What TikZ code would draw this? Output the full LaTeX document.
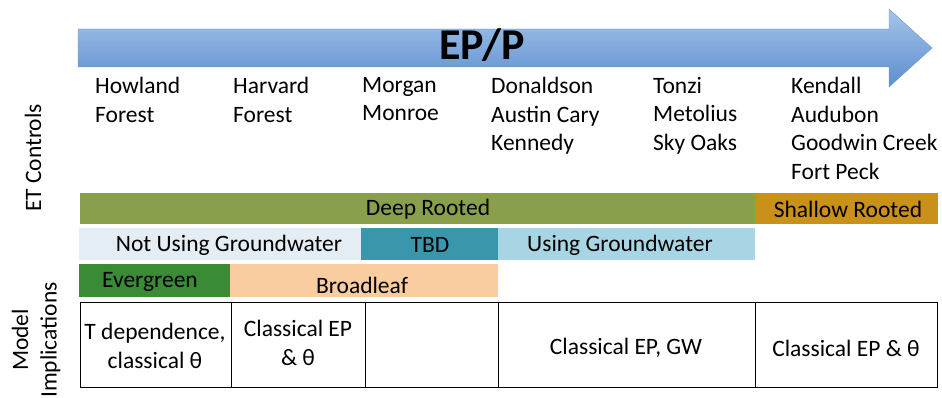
\documentclass[tikz,border=0pt]{standalone}
\usepackage{fontspec}
\setmainfont{Carlito}
\usepackage{tikz}
\usetikzlibrary{calc}

\definecolor{flecheHaut}{RGB}{165,196,232}
\definecolor{flecheBas}{RGB}{92,142,208}
\definecolor{flecheBord}{RGB}{110,150,205}
\definecolor{profond}{RGB}{138,159,76}
\definecolor{superficiel}{RGB}{201,144,26}
\definecolor{sansnappe}{RGB}{228,237,243}
\definecolor{inconnu}{RGB}{58,150,170}
\definecolor{avecnappe}{RGB}{168,213,227}
\definecolor{resineux}{RGB}{58,139,53}
\definecolor{feuillu}{RGB}{249,205,160}

\tikzset{
  texte/.style={font=\fontsize{23.5}{28.5}\selectfont, inner sep=0pt},
  site/.style={texte, align=left, anchor=north west},
  cellule/.style={texte, align=center}
}

\begin{document}
\begin{tikzpicture}[x=1pt,y=-1pt]
        \clip (0,0) rectangle (942,398);

        % Flèche EP/P
        \shade[top color=flecheHaut, bottom color=flecheBas, draw=flecheBord]
          (78,29) -- (889,29) -- (889,9) -- (932,48) -- (889,87) -- (889,67) -- (78,67) -- cycle;
        \node[font=\fontsize{44}{48}\selectfont\bfseries, inner sep=0pt] (epp) at (482,45) {EP/P};

        % Les sites
        \node[site] (howland) at (95,77) {Howland\\Forest};
        \node[site] (harvard) at (233,77) {Harvard\\Forest};
        \node[site] (morgan) at (362,77) {Morgan\\Monroe};
        \node[site] (donaldson) at (491,77) {Donaldson\\Austin Cary\\Kennedy};
        \node[site] (tonzi) at (653,77) {Tonzi\\Metolius\\Sky Oaks};
        \node[site] (kendall) at (791,77) {Kendall\\Audubon\\Goodwin Creek\\Fort Peck};

        % Titres à gauche
        \node[texte, rotate=90] (controles) at (33,158) {ET Controls};
        \node[cellule, rotate=90] (modele) at (36,340) {Model\\Implications};

        % Barres de couleur
        \fill[profond] (80,193) rectangle (755,224);
        \fill[superficiel] (755,193) rectangle (938,224);
        \fill[sansnappe] (79,228) rectangle (361,260);
        \fill[inconnu] (361,228) rectangle (498,260);
        \fill[avecnappe] (498,228) rectangle (755,260);
        \fill[resineux] (79,264) rectangle (230,297);
        \fill[feuillu] (230,264) rectangle (498,297);

        \node[texte] (racprof) at (428,209) {Deep Rooted};
        \node[texte] (racsup) at (848,209) {Shallow Rooted};
        \node[texte] (pasgw) at (229,245) {Not Using Groundwater};
        \node[texte] (tbd) at (430,245) {TBD};
        \node[texte] (gw) at (620,245) {Using Groundwater};
        \node[texte] (evergreen) at (150,282) {Evergreen};
        \node[texte] (broadleaf) at (362,285) {Broadleaf};

        % Tableau des implications
        \draw[thick] (80,302) rectangle (937,387);
        \foreach \x in {231,365,498,755}
          \draw[thick] (\x,302) -- (\x,387);

        \node[cellule] (tdep) at (155,346) {T dependence,\\classical θ};
        \node[cellule] (classA) at (298,343) {Classical EP\\\& θ};
        \node[cellule] (classgw) at (626,348) {Classical EP, GW};
        \node[cellule] (classB) at (846,348) {Classical EP \& θ};
    \end{tikzpicture}
\end{document}
